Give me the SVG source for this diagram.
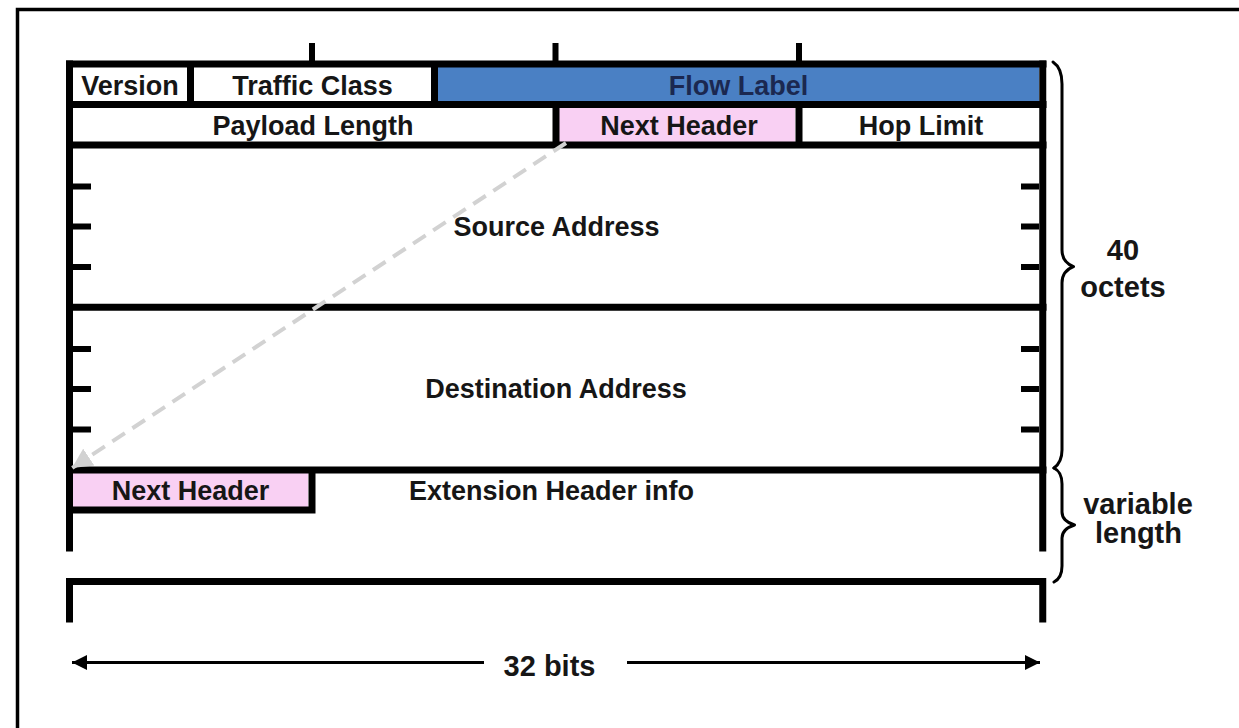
<svg xmlns="http://www.w3.org/2000/svg" width="1239" height="728" viewBox="0 0 1239 728">
  <style>
    .lbl { font-family: "Liberation Sans", Arial, sans-serif; font-weight: bold; font-size: 27px; fill: #161616; text-anchor: middle; }
    .side { font-family: "Liberation Sans", Arial, sans-serif; font-weight: bold; font-size: 29px; fill: #161616; text-anchor: middle; }
    .bar { stroke: #000; stroke-width: 7; fill: none; stroke-linecap: butt; }
    .tick { stroke: #000; stroke-width: 6; fill: none; }
    .brace { stroke: #000; stroke-width: 3; fill: none; stroke-linecap: round; stroke-linejoin: round; }
  </style>
  <defs>
    <marker id="grayHead" viewBox="0 0 10 10" refX="10" refY="5" markerWidth="5" markerHeight="5" orient="auto" markerUnits="strokeWidth">
      <path d="M0,0 L10,5 L0,10 z" fill="#d2d2d2"/>
    </marker>
    <marker id="blackHead" viewBox="0 0 10 10" refX="10" refY="5" markerWidth="5.5" markerHeight="5" orient="auto" markerUnits="strokeWidth">
      <path d="M0,0 L10,5 L0,10 z" fill="#000"/>
    </marker>
  </defs>

  <rect width="1239" height="728" fill="#fff"/>

  <!-- page frame -->
  <g id="frame">
    <path d="M17.5,728 V9.5 H1239" fill="none" stroke="#000" stroke-width="3.5"/>
  </g>

  <!-- header cells (fills and labels) -->
  <g id="flow-label">
    <rect x="438" y="67" width="601" height="34" fill="#4a80c4"/>
    <text class="lbl" x="738.5" y="94.5" style="fill:#1b2850">Flow Label</text>
  </g>
  <g id="next-header">
    <rect x="559" y="108" width="236" height="34" fill="#f9d0f3"/>
    <text class="lbl" x="679" y="134.5">Next Header</text>
  </g>
  <g id="ext-next-header">
    <rect x="73" y="473" width="235" height="34" fill="#f9d0f3"/>
    <text class="lbl" x="190.5" y="499.5">Next Header</text>
  </g>
  <g id="version">
    <text class="lbl" x="130" y="94.5">Version</text>
  </g>
  <g id="traffic-class">
    <text class="lbl" x="312.5" y="94.5">Traffic Class</text>
  </g>
  <g id="payload-length">
    <text class="lbl" x="313" y="134.5">Payload Length</text>
  </g>
  <g id="hop-limit">
    <text class="lbl" x="921" y="134.5">Hop Limit</text>
  </g>
  <g id="source-address">
    <text class="lbl" x="556.5" y="235.5">Source Address</text>
  </g>
  <g id="destination-address">
    <text class="lbl" x="556" y="397.5">Destination Address</text>
  </g>
  <g id="extension-info">
    <text class="lbl" x="409" y="500" style="text-anchor:start">Extension Header info</text>
  </g>

  <!-- header grid -->
  <g id="grid">
    <!-- bit ticks on top -->
    <path class="tick" d="M312,43 V64 M555.5,43 V64 M799,43 V64"/>
    <!-- outer sides -->
    <path class="bar" d="M69.5,60.5 V551.5 M1042.75,60.5 V551.5"/>
    <!-- horizontal rules -->
    <path class="bar" d="M66,64 H1046.5 M66,104.5 H1046.5 M66,145 H1046.5 M66,307.3 H1046.5 M66,470 H1046.5"/>
    <!-- column dividers -->
    <path class="bar" d="M190.5,64 V104.5 M434.5,64 V104.5 M556,104.5 V145 M799,104.5 V145"/>
    <!-- extension next header box -->
    <path class="bar" d="M312,470 V513.5 M66,510 H315.5"/>
    <!-- word ticks, left -->
    <path class="tick" d="M73,186.5 H91 M73,226.5 H91 M73,267 H91 M73,349 H91 M73,389 H91 M73,429.5 H91"/>
    <!-- word ticks, right -->
    <path class="tick" d="M1039,186.5 H1021 M1039,226.5 H1021 M1039,267 H1021 M1039,349 H1021 M1039,389 H1021 M1039,429.5 H1021"/>
    <!-- next word -->
    <path class="bar" d="M69.5,622.5 V581.5 H1042.75 V622.5"/>
  </g>

  <!-- connectors -->
  <g id="connectors">
    <path d="M566,143 L72,468" stroke="#d2d2d2" stroke-width="4" stroke-dasharray="15 9" fill="none" marker-end="url(#grayHead)"/>
    <path d="M484,662.5 H72" stroke="#000" stroke-width="3" fill="none" marker-end="url(#blackHead)"/>
    <path d="M627,662.5 H1040" stroke="#000" stroke-width="3" fill="none" marker-end="url(#blackHead)"/>
  </g>

  <g id="width-label">
    <text class="side" x="549.5" y="676">32 bits</text>
  </g>

  <!-- braces -->
  <g id="brace-fixed">
    <path class="brace" d="M1053,62 Q1062,68 1062,84 V250 Q1062,262 1073.5,266.7 Q1062,271 1062,283 V450 Q1062,462 1054,468"/>
    <text class="side" x="1123" y="260">40</text>
    <text class="side" x="1123" y="297">octets</text>
  </g>
  <g id="brace-variable">
    <path class="brace" d="M1054,468 Q1062,472 1062,484 V512 Q1062,521 1074.5,525 Q1062,529 1062,538 V566 Q1062,578 1054,582"/>
    <text class="side" x="1138" y="514">variable</text>
    <text class="side" x="1138.5" y="543">length</text>
  </g>
</svg>
